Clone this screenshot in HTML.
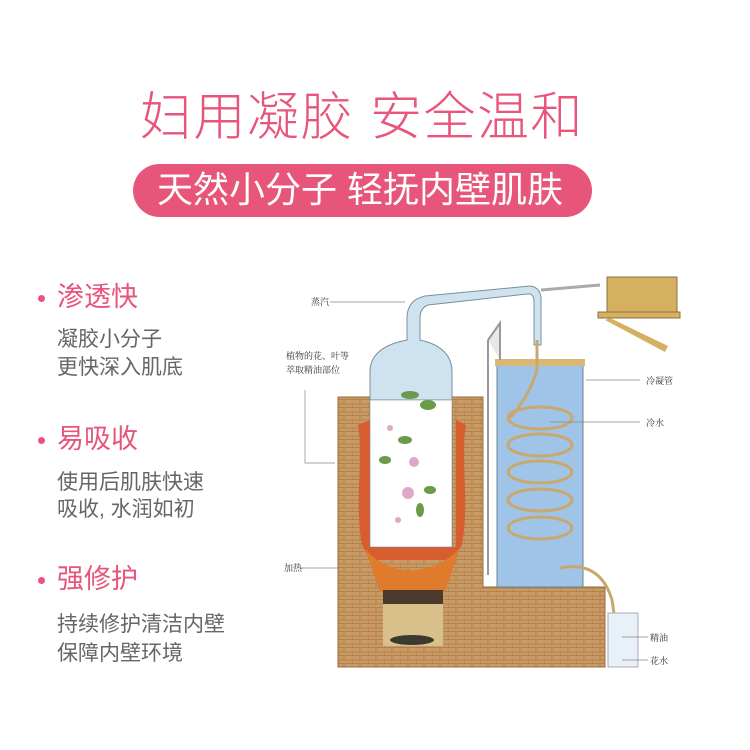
<!DOCTYPE html>
<html><head><meta charset="utf-8"><style>
body{margin:0;background:#fff;width:750px;height:750px;overflow:hidden;position:relative;font-family:"Liberation Sans","Noto Sans CJK SC",sans-serif}
.t{position:absolute;white-space:nowrap;line-height:1}
.h{color:#e8557a;font-size:27px;left:57px}
.b{color:#666;font-size:21px;left:57px}
.dot{position:absolute;width:7px;height:7px;border-radius:50%;background:#e8557a;left:38px}
</style></head><body>
<div class="t" style="left:140px;top:92px;font-size:52px;color:#e8557a;font-weight:300;letter-spacing:1.5px">妇用凝胶 安全温和</div>
<div style="position:absolute;left:133px;top:164px;width:459px;height:53px;border-radius:27px;background:#e8557a"></div>
<div class="t" style="left:157px;top:172px;font-size:36px;color:#fff">天然小分子 轻抚内壁肌肤</div>

<div class="dot" style="top:295px"></div><div class="t h" style="top:284px">渗透快</div>
<div class="t b" style="top:329px">凝胶小分子</div><div class="t b" style="top:357px">更快深入肌底</div>
<div class="dot" style="top:437px"></div><div class="t h" style="top:426px">易吸收</div>
<div class="t b" style="top:472px">使用后肌肤快速</div><div class="t b" style="top:499px">吸收, 水润如初</div>
<div class="dot" style="top:577px"></div><div class="t h" style="top:566px">强修护</div>
<div class="t b" style="top:614px">持续修护清洁内壁</div><div class="t b" style="top:643px">保障内壁环境</div>

<svg width="750" height="750" style="position:absolute;left:0;top:0" font-family="Liberation Serif,Noto Serif CJK SC,serif">
<defs><pattern id="br" width="16" height="8" patternUnits="userSpaceOnUse">
<rect width="16" height="8" fill="#c99a64"/><path d="M0 7.5H16M8 0V4M0 4H16M0 4V8" stroke="#a97a48" stroke-width="0.8" fill="none"/></pattern></defs>
<!-- brick -->
<path d="M338 397H370V547H452V397H483V587H605V667H338Z" fill="url(#br)" stroke="#9a6c3c"/>
<!-- fire channel -->
<path d="M358 425C364 460 354 500 362 545L370 560H452L462 545C470 500 460 460 466 425L456 420V547H370V420Z" fill="#d9582a" opacity="0.9"/>
<path d="M365 548C385 575 430 580 460 548L445 592H380Z" fill="#e07a2c"/>
<rect x="383" y="590" width="60" height="14" fill="#4a3a2c"/>
<rect x="383" y="604" width="60" height="42" fill="#d8c08a"/>
<ellipse cx="412" cy="640" rx="22" ry="5" fill="#3a3a30"/>
<!-- flask -->
<path d="M370 400V372Q370 347 407 340V318Q407 300 425 296L530 286Q540 287 541 298V345H534V300Q533 293 527 294L428 305Q420 308 420 318V340Q452 347 452 372V400Z" fill="#cfe2f0" stroke="#7a8f9c"/>
<rect x="370" y="400" width="82" height="147" fill="#fff" stroke="#7a8f9c" stroke-width="0.6"/>
<g fill="#6a9a4a"><ellipse cx="410" cy="395" rx="9" ry="4"/><ellipse cx="428" cy="405" rx="8" ry="5"/><ellipse cx="405" cy="440" rx="7" ry="4"/><ellipse cx="385" cy="460" rx="6" ry="4"/><ellipse cx="430" cy="490" rx="6" ry="4"/><ellipse cx="420" cy="510" rx="4" ry="7"/></g>
<g fill="#e0a8c8"><circle cx="414" cy="462" r="5"/><circle cx="408" cy="493" r="6"/><circle cx="398" cy="520" r="3"/><circle cx="390" cy="428" r="3"/></g>
<!-- tank -->
<rect x="497" y="362" width="86" height="225" fill="#9fc4e8" stroke="#6a7f90"/>
<rect x="495" y="359" width="90" height="7" fill="#d9b876"/>
<g fill="none" stroke="#c9a870" stroke-width="3"><ellipse cx="540" cy="418" rx="32" ry="11"/><ellipse cx="540" cy="445" rx="32" ry="11"/><ellipse cx="540" cy="472" rx="32" ry="11"/><ellipse cx="540" cy="500" rx="32" ry="11"/><ellipse cx="540" cy="528" rx="32" ry="11"/>
<path d="M537 340V370Q530 395 510 418"/><path d="M560 568Q600 560 612 600L618 640"/></g>
<path d="M488 340L500 323V360M488 340V575" stroke="#999" fill="#e8e8e8" stroke-width="2"/>
<path d="M541 290L600 285" stroke="#aaa" stroke-width="3"/>
<rect x="607" y="277" width="70" height="36" fill="#d4b060" stroke="#8a7040"/>
<rect x="598" y="312" width="82" height="6" fill="#d4b060" stroke="#8a7040"/>
<path d="M610 318L668 346L665 352L605 320Z" fill="#d4b060"/>
<rect x="608" y="613" width="30" height="54" fill="#e8f0f8" stroke="#aab"/>
<!-- labels -->
<g stroke="#888" stroke-width="0.7" fill="none"><path d="M330 302H405"/><path d="M305 390V463H335"/><path d="M300 568H338"/><path d="M586 380H640"/><path d="M550 422H640"/><path d="M622 637H648"/><path d="M622 660H648"/></g>
<g font-size="9" fill="#333"><text x="311" y="305">蒸汽</text><text x="286" y="359">植物的花、叶等</text><text x="286" y="373">萃取精油部位</text><text x="284" y="571">加热</text><text x="646" y="384">冷凝管</text><text x="646" y="426">冷水</text><text x="650" y="641">精油</text><text x="650" y="664">花水</text></g>
</svg>
</body></html>
